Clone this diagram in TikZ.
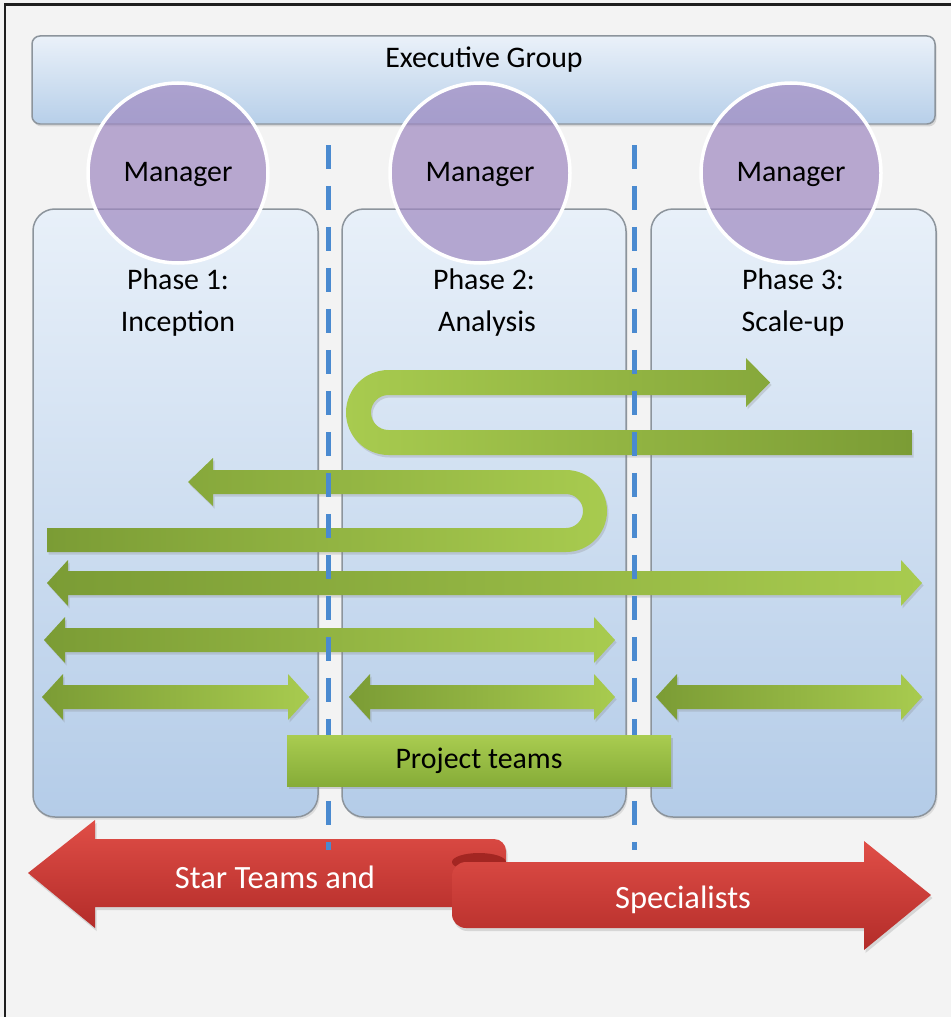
\documentclass[tikz,border=0pt]{standalone}
\usepackage{fontspec}
\setmainfont{Carlito}
\usetikzlibrary{shadows}
\definecolor{bg}{HTML}{F3F3F3}
\definecolor{frame}{HTML}{1E1E1E}
\definecolor{boxline}{HTML}{8C949C}
\definecolor{execTop}{HTML}{EAF1F9}
\definecolor{execBot}{HTML}{B7CFE9}
\definecolor{phTop}{HTML}{E8F0F9}
\definecolor{phBot}{HTML}{B4CCE8}
\definecolor{dashc}{HTML}{4A8AD0}
\definecolor{mgr}{HTML}{9E88C0}
\definecolor{gDark}{HTML}{7B9C35}
\definecolor{gLight}{HTML}{A8CB4F}
\definecolor{ptTop}{HTML}{A9CC50}
\definecolor{ptBot}{HTML}{86AC38}
\definecolor{rTop}{HTML}{E04E47}
\definecolor{rBot}{HTML}{B32C29}
\definecolor{rRoll}{HTML}{A32622}
\tikzset{
  execbox/.style={top color=execTop, bottom color=execBot, draw=boxline, line width=0.03cm, rounded corners=0.16cm,
    drop shadow={shadow xshift=0.03cm, shadow yshift=-0.05cm, opacity=0.25}},
  phasebox/.style={top color=phTop, bottom color=phBot, draw=boxline, line width=0.03cm, rounded corners=0.44cm,
    drop shadow={shadow xshift=0.03cm, shadow yshift=-0.05cm, opacity=0.2}},
  dashline/.style={dashc, line width=0.1cm, dash pattern=on 0.48cm off 0.34cm},
  mgrcircle/.style={fill=mgr, fill opacity=0.7, draw=white, draw opacity=1, line width=0.07cm},
  greenarrow/.style={left color=gDark, right color=gLight,
    drop shadow={shadow xshift=0.03cm, shadow yshift=-0.05cm, opacity=0.25}},
  ptbox/.style={top color=ptTop, bottom color=ptBot,
    drop shadow={shadow xshift=0.03cm, shadow yshift=-0.05cm, opacity=0.3}},
  redpiece/.style={top color=rTop, bottom color=rBot,
    drop shadow={shadow xshift=0.03cm, shadow yshift=-0.06cm, opacity=0.25}},
  lbl/.style={inner sep=0pt, text=black},
  wlbl/.style={inner sep=0pt, text=white, font=\fontsize{18.5}{22}\selectfont},
}
\newcommand\dblarrow[4][]{%
  \shade[greenarrow,#1] (#2,#4) -- ++(21,-23) -- ++(0,11) -- ({#3-21},{#4-12}) -- ++(0,-11) -- (#3,#4)
    -- ({#3-21},{#4+23}) -- ++(0,-11) -- ({#2+21},{#4+12}) -- ++(0,11) -- cycle;}
\begin{document}
\begin{tikzpicture}[x=0.02cm,y=-0.02cm,font=\fontsize{17}{20}\selectfont]
\useasboundingbox (0,0) rectangle (951,1017);
\fill[bg] (0,0) rectangle (951,1017);
\draw[frame, line width=0.06cm] (5,1017) -- (5,5) -- (951,5);

% executive group
\shade[execbox] (32,36) rectangle (935,124);
\node[lbl] (exec) at (484,60) {Executive Group};

% phase boxes
\shade[phasebox] (33,209) rectangle (318,817);
\shade[phasebox] (342,209) rectangle (626,817);
\shade[phasebox] (651,209) rectangle (936,817);

\node[lbl] (p1a) at (178,279) {Phase 1:};
\node[lbl] (p1b) at (178,324) {Inception};
\node[lbl] (p2a) at (484,279) {Phase 2:};
\node[lbl] (p2b) at (487,324) {Analysis};
\node[lbl] (p3a) at (793,279) {Phase 3:};
\node[lbl] (p3b) at (793,324) {Scale-up};

% S-shaped arrows
\shade[greenarrow, left color=gLight, right color=gDark]
  (912,430) -- (912,455) -- (388.5,455) arc[start angle=90,end angle=270,radius=42.5]
  -- (746,370) -- (746,358) -- (770,382.5) -- (746,407) -- (746,395) -- (388.5,395)
  arc[start angle=270,end angle=90,radius=17.5] -- cycle;
\shade[greenarrow]
  (47,528) -- (566,528) arc[start angle=90,end angle=-90,radius=17]
  -- (213,494) -- (213,506) -- (188,482) -- (213,458) -- (213,470) -- (566,470)
  arc[start angle=-90,end angle=90,radius=41] -- (47,552) -- cycle;

% double arrows
\dblarrow{47}{922}{583}
\dblarrow{44}{615}{640}
\dblarrow{42}{309}{697}
\dblarrow{349}{615}{697}
\dblarrow{656}{922}{697}

% red ribbon arrow
\shade[redpiece] (28,873) -- (95,820) -- (95,839) -- (494,839) to[out=0,in=90] (506,851)
  -- (506,907) -- (95,907) -- (95,928) -- cycle;
\fill[rRoll] (479,862) ellipse[x radius=27, y radius=9];
\shade[redpiece] (466,862) -- (864,862) -- (864,841) -- (931,895) -- (864,950) -- (864,928)
  -- (466,928) to[out=180,in=-90] (452,914) -- (452,876) to[out=90,in=180] cycle;
\node[wlbl] (star) at (275,877) {Star Teams and};
\node[wlbl] (spec) at (683,900) {Specialists};

% dashed separators
\draw[dashline] (328,145) -- (328,850);
\draw[dashline] (634,145) -- (634,850);

% project teams
\shade[ptbox] (287,735) rectangle (671,786);
\node[lbl] (pt) at (479,761) {Project teams};

% managers
\draw[mgrcircle] (178,173) circle[radius=90];
\draw[mgrcircle] (480,173) circle[radius=90];
\draw[mgrcircle] (791,173) circle[radius=90];
\node[lbl] (m1) at (178,174) {Manager};
\node[lbl] (m2) at (480,174) {Manager};
\node[lbl] (m3) at (791,174) {Manager};
\end{tikzpicture}
\end{document}
